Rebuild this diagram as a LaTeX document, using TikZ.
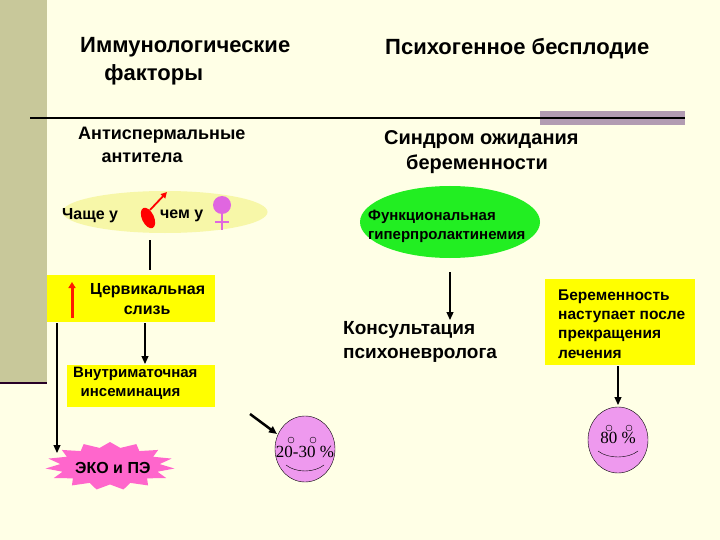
\documentclass[tikz,border=0pt]{standalone}
\usepackage{fontspec}
\setmainfont{Liberation Sans}
\newfontfamily\serifnum{Liberation Serif}
\usetikzlibrary{shapes.geometric,arrows.meta}
\definecolor{bg}{HTML}{FFFFE6}
\definecolor{bar}{HTML}{C8C89A}
\definecolor{yel}{HTML}{FFFF00}
\definecolor{lyel}{HTML}{F7F7A8}
\definecolor{grn}{HTML}{22EE22}
\definecolor{pnk}{HTML}{EE99EE}
\definecolor{starp}{HTML}{FF66CC}
\newcommand\fsz[1]{\fontsize{#1}{1.25\dimexpr#1pt\relax}\selectfont}
\begin{document}
\begin{tikzpicture}[x=1pt,y=-1pt,
  txt/.style={anchor=west,align=left,inner sep=0pt,font=\bfseries\fsz{#1}},
  ybox/.style={fill=yel,inner sep=0pt},
  con/.style={line width=1.2pt,-{Triangle[length=8pt,width=7pt]}},
  smile/.style={draw=black,fill=pnk,ellipse}]
\fill[bg] (0,0) rectangle (720,540);
\useasboundingbox (0,0) rectangle (720,540);
\fill[bar] (0,0) rectangle (47,383);
\draw[line width=2pt,color=black!70!violet] (0,383) -- (47,383);
\fill[gray!70!violet!60] (540,111) rectangle (685,125);
\draw[line width=1.5pt] (30,118) -- (685,118);

\node[txt=22] (t1) at (80,61) {Иммунологические\\\hspace*{1.1em}факторы};
\node[txt=22] (t2) at (385,49) {Психогенное бесплодие};
\node[txt=18] (s1) at (78,145) {Антиспермальные\\\hspace*{1.3em}антитела};
\node[txt=20] (s2) at (384,152) {Синдром ожидания\\\hspace*{1.1em}беременности};

\node[ellipse,fill=lyel,minimum width=205,minimum height=42] (e1) at (165,212) {};
\node[txt=16] (ch) at (62,216) {Чаще у};
\node[txt=16] (ce) at (160,216) {чем у};
% male
\fill[red,rotate around={-65:(148,218)}] (148,218) ellipse (11 and 6);
\draw[red,line width=1.8pt,-{Triangle[length=6pt,width=6pt]}] (150,210) -- (167,192);
% female
\fill[violet!40!magenta!60] (222,205) circle (9);
\draw[violet!40!magenta!60,line width=1.5pt] (222,213) -- (222,230) (215,222) -- (229,222);

\node[ellipse,fill=grn,minimum width=180,minimum height=72] (e2) at (450,222) {};
\node[txt=15] (e2t) at (368,226) {Функциональная\\гиперпролактинемия};

\node[ybox,minimum width=168,minimum height=47] (cerv) at (131,298.5) {};
\node[txt=16] (cervt) at (90,299) {Цервикальная\\\hspace*{2.1em}слизь};
\draw[red!80!orange,line width=3pt,-{Triangle[length=6pt,width=7pt]}] (72,318) -- (72,282);

\draw[line width=1.2pt] (150,240) -- (150,270);

\node[ybox,minimum width=148,minimum height=42] (vm) at (141,386) {};
\node[txt=15] (vmt) at (73,383) {Внутриматочная\\\hspace*{0.5em}инсеминация};

\draw[con] (145,323) -- (145,364);
\draw[con] (57,323) -- (57,453);

\node[star,star points=15,star point ratio=1.3,fill=starp,minimum size=48,inner sep=0pt,xscale=2.7,transform shape] (star) at (110,466) {};
\node[txt=16] (eko) at (75,468) {ЭКО и ПЭ};

\draw[con,line width=2.5pt] (250,414) -- (277,434);
\node[smile,minimum width=60,minimum height=66] (sm1) at (305,449) {};
\node[font=\serifnum\fsz{17}] (sm1t) at (305,452) {20-30 \%};
\draw (291,440) circle (3) (313,440) circle (3);
\draw (286,465) .. controls (296,473) and (314,473) .. (324,465);

\draw[con] (450,272) -- (450,320);
\node[txt=19] (kons) at (343,342) {Консультация\\психоневролога};

\node[ybox,minimum width=150,minimum height=86] (pr) at (620,322) {};
\node[txt=15.5] (prt) at (558,324) {Беременность\\наступает после\\прекращения\\лечения};
\draw[con] (618,366) -- (618,405);

\node[smile,minimum width=60,minimum height=66] (sm2) at (618,440) {};
\node[font=\serifnum\fsz{17}] (sm2t) at (618,438) {80 \%};
\draw (609,428) circle (3) (629,428) circle (3);
\draw (598,451) .. controls (608,459) and (628,459) .. (638,451);
\end{tikzpicture}
\end{document}
